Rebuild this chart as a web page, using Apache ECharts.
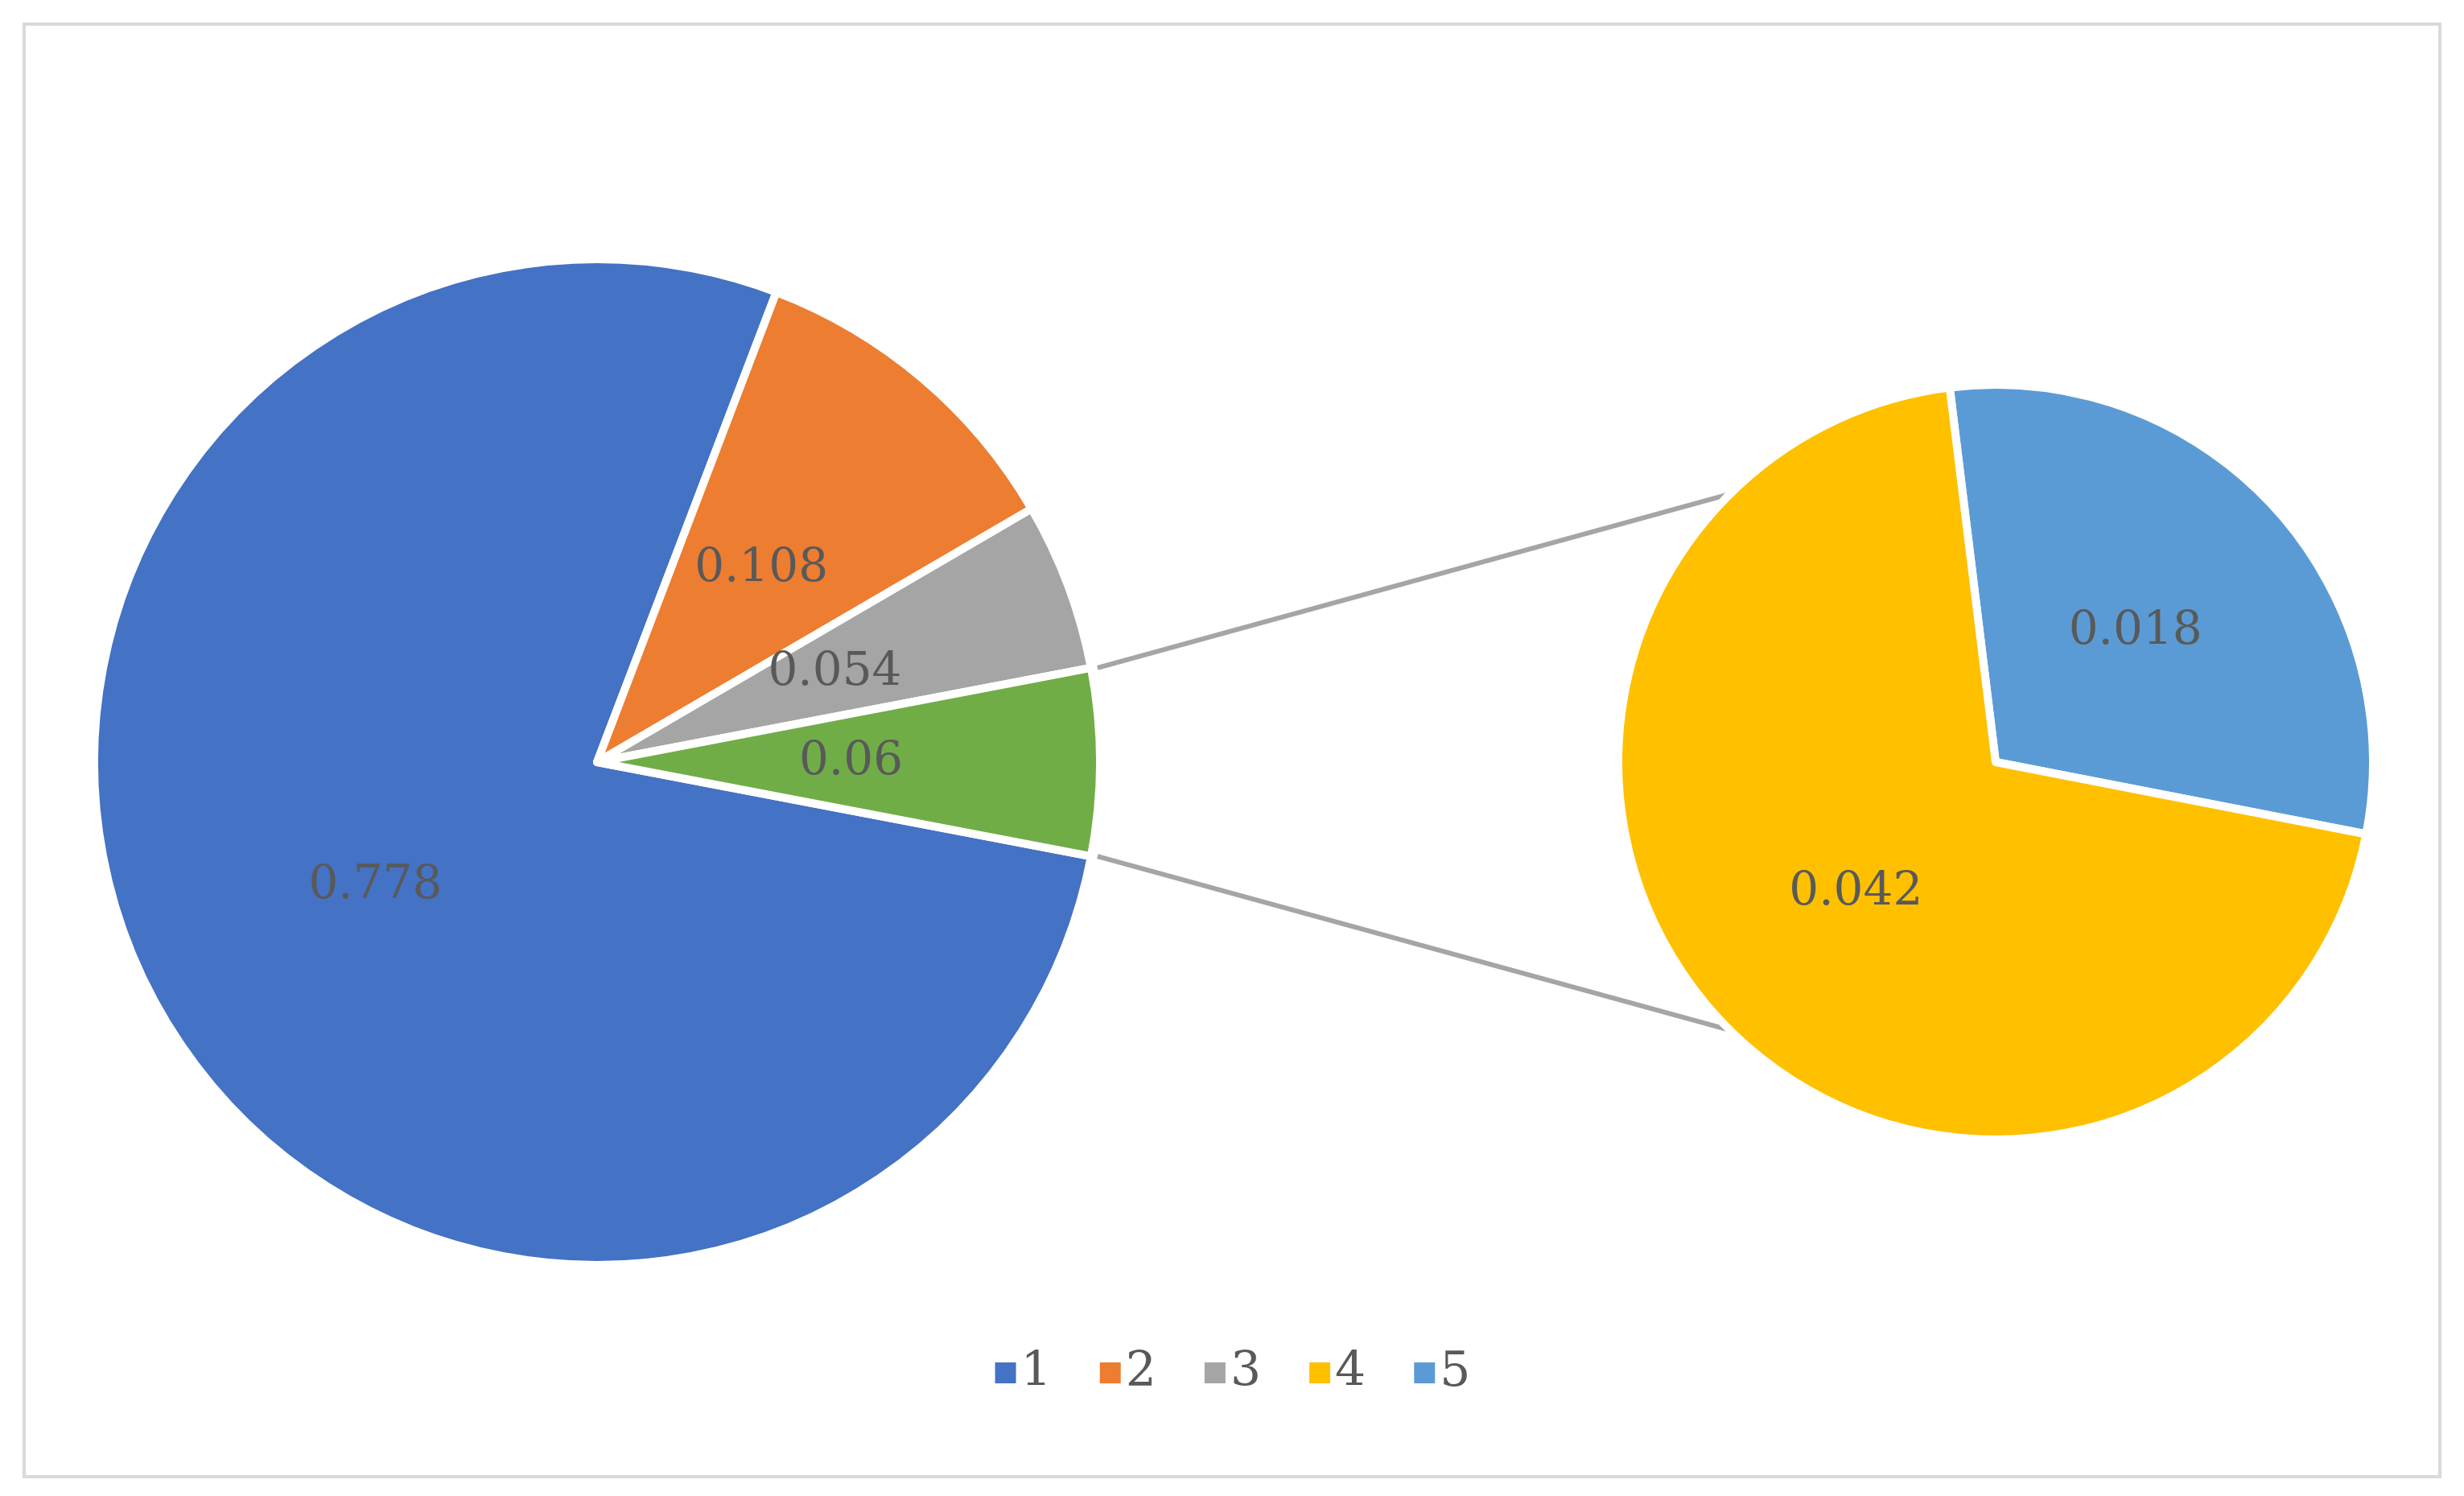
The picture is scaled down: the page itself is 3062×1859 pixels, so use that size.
<!DOCTYPE html>
<html><head><meta charset="utf-8">
<script src="https://cdn.jsdelivr.net/npm/echarts@6/dist/echarts.min.js"></script>
<style>html,body{margin:0;padding:0;background:#fff}#c{width:3062px;height:1859px}</style>
</head><body><div id="c"></div>
<script>
const mainNames = ['1','2','3','Other'];
const mainValues = [0.778, 0.108, 0.054, 0.06];
const subNames = ['5','4'];
const subValues = [0.018, 0.042];
const colors = {'1':'#4472C4','2':'#ED7D31','3':'#A5A5A5','4':'#FFC000','5':'#5B9BD5','Other':'#70AD47'};

const L = {cx:742, cy:947, r:625};
const R = {cx:2480, cy:947, r:469};
const font = '"DejaVu Serif", "Liberation Serif", serif';
const chart = echarts.init(document.getElementById('c'));

// connector endpoints derived from the green slice edges and sub-pie
const half = mainValues[3] / 2 * 2 * Math.PI;
function pt(c, ang){ return [c.cx + c.r*Math.cos(ang), c.cy - c.r*Math.sin(ang)]; }
const a1 = pt(L, half), a2 = pt(L, -half);
const b1 = [R.cx - R.r*0.45, R.cy - R.r*0.78], b2 = [R.cx - R.r*0.45, R.cy + R.r*0.78];

const labelStyle = {show:true, position:'inner', formatter:'{c}', color:'#595959', fontSize:58, fontFamily:font};
chart.setOption({
  animation:false,
  color:[colors['1'],colors['2'],colors['3'],colors['4'],colors['5']],
  legend:{bottom:118, left:'center', data:['1','2','3','4','5'], icon:'rect', itemWidth:28, itemHeight:28, itemGap:58,
    textStyle:{color:'#595959', fontSize:60, fontFamily:font}},
  graphic:[
    {type:'rect', shape:{x:30,y:30,width:3002,height:1805}, style:{fill:null, stroke:'#D9D9D9', lineWidth:4}, z:-1},
    {type:'line', shape:{x1:a1[0]+8,y1:a1[1],x2:b1[0],y2:b1[1]}, style:{stroke:'#A5A5A5', lineWidth:6}, z:-1},
    {type:'line', shape:{x1:a2[0]+8,y1:a2[1],x2:b2[0],y2:b2[1]}, style:{stroke:'#A5A5A5', lineWidth:6}, z:-1}
  ],
  series:[
    {type:'pie', center:[L.cx,L.cy], radius:[0,L.r], startAngle:360-mainValues[3]*180, clockwise:true,
     itemStyle:{borderColor:'#fff', borderWidth:10}, label:labelStyle, labelLine:{show:false}, emphasis:{disabled:true},
     data: mainNames.map((n,i)=>({name:n, value:mainValues[i], itemStyle:{color:colors[n]}}))},
    {type:'pie', center:[R.cx,R.cy], radius:[0,R.r], startAngle:97, clockwise:true,
     itemStyle:{borderColor:'#fff', borderWidth:10}, label:labelStyle, labelLine:{show:false}, emphasis:{disabled:true},
     data: subNames.map((n,i)=>({name:n, value:subValues[i], itemStyle:{color:colors[n]}}))}
  ]
});
</script></body></html>
